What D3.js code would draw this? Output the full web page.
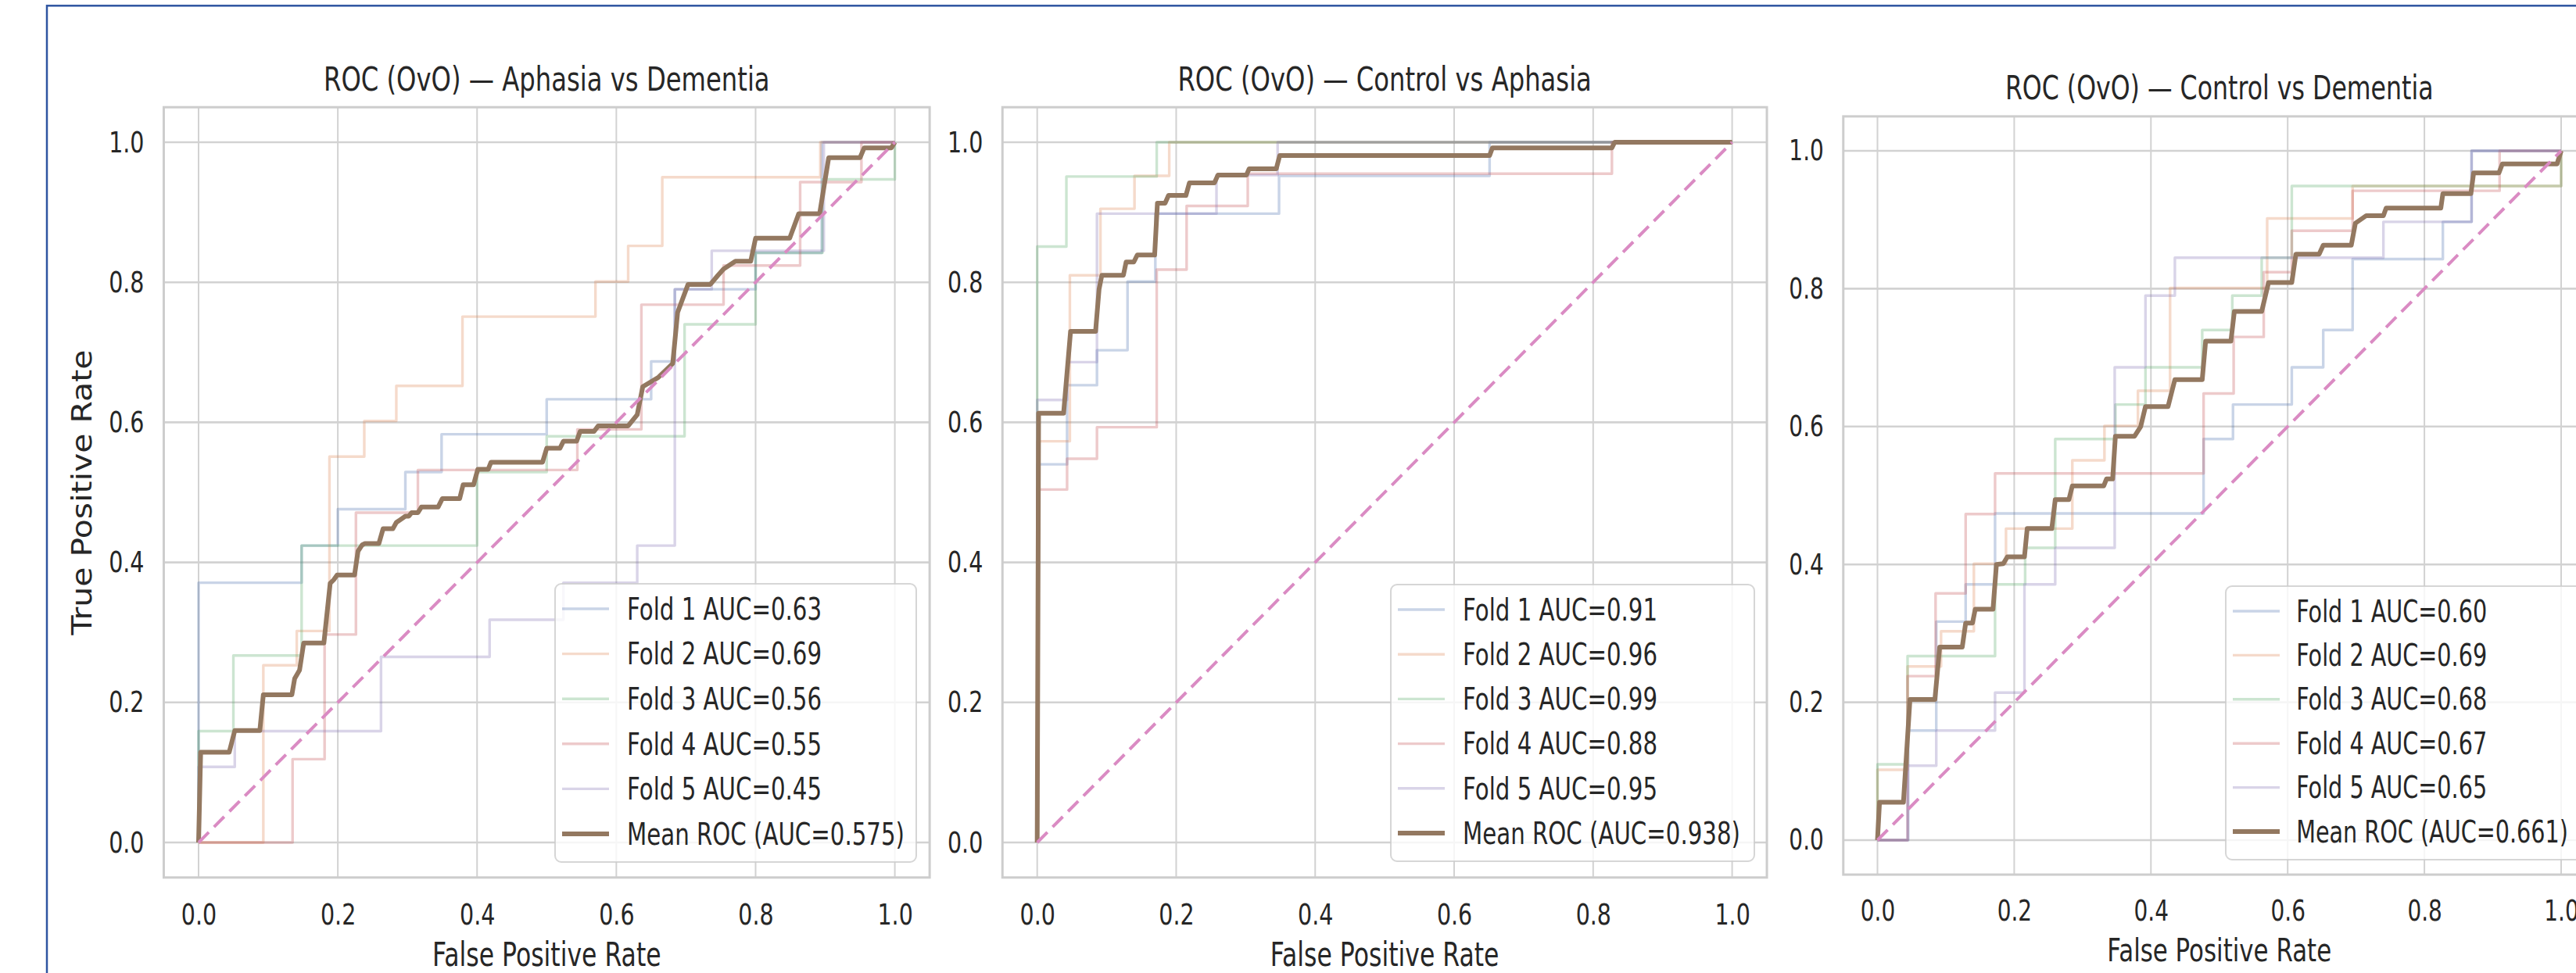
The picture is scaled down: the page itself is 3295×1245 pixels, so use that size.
<!DOCTYPE html>
<html>
<head>
<meta charset="utf-8">
<script src="https://cdn.jsdelivr.net/npm/d3@7"></script>
<style>
  body { margin: 0; background: #fff; }
  svg { display: block; }
</style>
</head>
<body>
<script>
var W = 3295, H = 1245;
var SX = 0.75; // the source screenshot is squeezed horizontally
var FONT = "DejaVu Sans, sans-serif";
var INK = "#262626";

var ticks = [0, 0.2, 0.4, 0.6, 0.8, 1.0];
var foldNames = ["Fold 1", "Fold 2", "Fold 3", "Fold 4", "Fold 5"];
var foldColors = ["#4c72b0", "#dd8452", "#55a868", "#c44e52", "#8172b3"];
var meanColor = "#937860";
var chanceColor = "#da8bc3";
var chance = [[0, 0], [1, 1]];

var titles = [
  "ROC (OvO) — Aphasia vs Dementia",
  "ROC (OvO) — Control vs Aphasia",
  "ROC (OvO) — Control vs Dementia"
];

// Aphasia vs Dementia
var aucAD = [0.63, 0.69, 0.56, 0.55, 0.45];
var meanAucAD = 0.575;
var adFold1 = [[0,0],[0,0.371],[0.148,0.371],[0.148,0.424],[0.2,0.424],[0.2,0.476],[0.297,0.476],[0.297,0.529],[0.349,0.529],[0.349,0.583],[0.5,0.583],[0.5,0.633],[0.65,0.633],[0.65,0.687],[0.684,0.687],[0.684,0.79],[0.8,0.79],[0.8,0.842],[0.895,0.842],[0.895,1],[1,1]];
var adFold2 = [[0,0],[0.093,0],[0.093,0.253],[0.141,0.253],[0.141,0.302],[0.188,0.302],[0.188,0.551],[0.238,0.551],[0.238,0.602],[0.284,0.602],[0.284,0.652],[0.379,0.652],[0.379,0.751],[0.57,0.751],[0.57,0.801],[0.617,0.801],[0.617,0.852],[0.666,0.852],[0.666,0.95],[0.893,0.95],[0.893,1],[1,1]];
var adFold3 = [[0,0],[0,0.159],[0.05,0.159],[0.05,0.267],[0.148,0.267],[0.148,0.424],[0.4,0.424],[0.4,0.529],[0.5,0.529],[0.5,0.58],[0.698,0.58],[0.698,0.74],[0.8,0.74],[0.8,0.842],[0.896,0.842],[0.896,0.947],[1,0.947],[1,1]];
var adFold4 = [[0,0],[0.135,0],[0.135,0.119],[0.181,0.119],[0.181,0.297],[0.226,0.297],[0.226,0.471],[0.315,0.471],[0.315,0.532],[0.544,0.532],[0.544,0.59],[0.636,0.59],[0.636,0.768],[0.754,0.768],[0.754,0.824],[0.864,0.824],[0.864,0.943],[0.952,0.943],[0.952,1],[1,1]];
var adFold5 = [[0,0],[0,0.108],[0.052,0.108],[0.052,0.159],[0.262,0.159],[0.262,0.265],[0.418,0.265],[0.418,0.318],[0.524,0.318],[0.524,0.371],[0.63,0.371],[0.63,0.424],[0.684,0.424],[0.684,0.79],[0.737,0.79],[0.737,0.845],[0.898,0.845],[0.898,1],[1,1]];
var adMean = [[0,0],[0.003,0.129],[0.044,0.129],[0.052,0.16],[0.088,0.16],[0.093,0.211],[0.134,0.211],[0.138,0.234],[0.145,0.246],[0.151,0.285],[0.18,0.285],[0.189,0.37],[0.194,0.375],[0.199,0.382],[0.224,0.382],[0.229,0.416],[0.235,0.425],[0.239,0.427],[0.259,0.427],[0.265,0.448],[0.279,0.448],[0.284,0.457],[0.297,0.466],[0.302,0.466],[0.306,0.471],[0.315,0.471],[0.32,0.479],[0.344,0.479],[0.35,0.491],[0.375,0.491],[0.38,0.511],[0.395,0.511],[0.401,0.533],[0.416,0.533],[0.42,0.543],[0.494,0.543],[0.5,0.563],[0.519,0.563],[0.524,0.573],[0.543,0.573],[0.548,0.587],[0.568,0.587],[0.574,0.595],[0.617,0.595],[0.63,0.611],[0.638,0.651],[0.66,0.664],[0.681,0.684],[0.688,0.757],[0.703,0.797],[0.735,0.797],[0.746,0.81],[0.754,0.819],[0.771,0.83],[0.793,0.83],[0.8,0.863],[0.849,0.863],[0.862,0.898],[0.892,0.898],[0.905,0.978],[0.95,0.978],[0.956,0.992],[0.995,0.992],[1,1]];

// Control vs Aphasia
var aucCA = [0.91, 0.96, 0.99, 0.88, 0.95];
var meanAucCA = 0.938;
var caFold1 = [[0,0],[0,0.54],[0.043,0.54],[0.043,0.653],[0.086,0.653],[0.086,0.703],[0.13,0.703],[0.13,0.801],[0.17,0.801],[0.17,0.898],[0.348,0.898],[0.348,0.952],[0.651,0.952],[0.651,1],[1,1]];
var caFold2 = [[0,0],[0,0.573],[0.047,0.573],[0.047,0.81],[0.091,0.81],[0.091,0.905],[0.14,0.905],[0.14,0.952],[0.19,0.952],[0.19,1],[1,1]];
var caFold3 = [[0,0],[0,0.851],[0.042,0.851],[0.042,0.951],[0.172,0.951],[0.172,1],[1,1]];
var caFold4 = [[0,0],[0,0.504],[0.043,0.504],[0.043,0.548],[0.086,0.548],[0.086,0.593],[0.172,0.593],[0.172,0.818],[0.215,0.818],[0.215,0.909],[0.303,0.909],[0.303,0.955],[0.827,0.955],[0.827,1],[1,1]];
var caFold5 = [[0,0],[0,0.632],[0.043,0.632],[0.043,0.686],[0.086,0.686],[0.086,0.898],[0.258,0.898],[0.258,0.953],[0.346,0.953],[0.346,1],[1,1]];
var caMean = [[0,0],[0.002,0.613],[0.038,0.613],[0.048,0.73],[0.084,0.73],[0.089,0.79],[0.093,0.81],[0.124,0.81],[0.128,0.829],[0.139,0.829],[0.144,0.839],[0.169,0.839],[0.173,0.913],[0.184,0.913],[0.189,0.924],[0.214,0.924],[0.219,0.942],[0.255,0.942],[0.26,0.953],[0.301,0.953],[0.305,0.962],[0.344,0.962],[0.349,0.981],[0.651,0.981],[0.655,0.992],[0.827,0.992],[0.831,1],[1,1]];

// Control vs Dementia
var aucCD = [0.60, 0.69, 0.68, 0.67, 0.65];
var meanAucCD = 0.661;
var cdFold1 = [[0,0],[0.045,0],[0.045,0.159],[0.086,0.159],[0.086,0.317],[0.129,0.317],[0.129,0.371],[0.172,0.371],[0.172,0.474],[0.477,0.474],[0.477,0.582],[0.52,0.582],[0.52,0.632],[0.606,0.632],[0.606,0.686],[0.652,0.686],[0.652,0.74],[0.695,0.74],[0.695,0.843],[0.827,0.843],[0.827,0.897],[0.869,0.897],[0.869,1],[1,1]];
var cdFold2 = [[0,0],[0,0.102],[0.044,0.102],[0.044,0.252],[0.093,0.252],[0.093,0.303],[0.141,0.303],[0.141,0.401],[0.188,0.401],[0.188,0.452],[0.285,0.452],[0.285,0.551],[0.332,0.551],[0.332,0.601],[0.381,0.601],[0.381,0.652],[0.428,0.652],[0.428,0.801],[0.57,0.801],[0.57,0.902],[0.695,0.902],[0.695,0.949],[1,0.949],[1,1]];
var cdFold3 = [[0,0],[0,0.11],[0.044,0.11],[0.044,0.267],[0.172,0.267],[0.172,0.371],[0.216,0.371],[0.216,0.424],[0.26,0.424],[0.26,0.582],[0.348,0.582],[0.348,0.632],[0.392,0.632],[0.392,0.686],[0.475,0.686],[0.475,0.74],[0.519,0.74],[0.519,0.79],[0.562,0.79],[0.562,0.845],[0.606,0.845],[0.606,0.949],[1,0.949],[1,1]];
var cdFold4 = [[0,0],[0.044,0],[0.044,0.238],[0.085,0.238],[0.085,0.358],[0.129,0.358],[0.129,0.473],[0.172,0.473],[0.172,0.532],[0.477,0.532],[0.477,0.648],[0.521,0.648],[0.521,0.73],[0.565,0.73],[0.565,0.824],[0.606,0.824],[0.606,0.884],[0.695,0.884],[0.695,0.942],[0.91,0.942],[0.91,1],[1,1]];
var cdFold5 = [[0,0],[0.044,0],[0.044,0.108],[0.086,0.108],[0.086,0.159],[0.172,0.159],[0.172,0.214],[0.215,0.214],[0.215,0.371],[0.26,0.371],[0.26,0.424],[0.347,0.424],[0.347,0.686],[0.392,0.686],[0.392,0.79],[0.435,0.79],[0.435,0.845],[0.74,0.845],[0.74,0.897],[0.869,0.897],[0.869,1],[1,1]];
var cdMean = [[0,0],[0.003,0.055],[0.038,0.055],[0.0475,0.204],[0.084,0.204],[0.091,0.28],[0.124,0.28],[0.129,0.315],[0.139,0.315],[0.143,0.335],[0.169,0.335],[0.174,0.4],[0.184,0.401],[0.19,0.411],[0.215,0.411],[0.219,0.452],[0.255,0.452],[0.26,0.494],[0.28,0.494],[0.285,0.514],[0.331,0.514],[0.335,0.524],[0.344,0.524],[0.348,0.586],[0.376,0.586],[0.385,0.6],[0.392,0.629],[0.425,0.629],[0.435,0.668],[0.475,0.668],[0.48,0.724],[0.517,0.724],[0.522,0.767],[0.562,0.767],[0.572,0.809],[0.606,0.809],[0.612,0.85],[0.646,0.85],[0.652,0.863],[0.693,0.863],[0.699,0.895],[0.715,0.906],[0.74,0.906],[0.744,0.917],[0.824,0.917],[0.827,0.938],[0.868,0.938],[0.872,0.968],[0.909,0.968],[0.914,0.981],[0.994,0.981],[1,1]];

// layout of the three panels (pixel frames, as in the screenshot)
var panels = [
  {title: titles[0], folds: [adFold1, adFold2, adFold3, adFold4, adFold5], auc: aucAD, mean: adMean, meanAuc: meanAucAD,
   x0: 254, x1: 1144.6, y0: 1078, y1: 182, k: 1, leg: {x: 710, y: 747, w: 462, h: 356}, ylabel: true},
  {title: titles[1], folds: [caFold1, caFold2, caFold3, caFold4, caFold5], auc: aucCA, mean: caMean, meanAuc: meanAucCA,
   x0: 1326.7, x1: 2215.6, y0: 1078, y1: 182, k: 1, leg: {x: 1779, y: 748, w: 465, h: 354}, ylabel: false},
  {title: titles[2], folds: [cdFold1, cdFold2, cdFold3, cdFold4, cdFold5], auc: aucCD, mean: cdMean, meanAuc: meanAucCD,
   x0: 2401.5, x1: 3276, y0: 1075, y1: 193, k: 0.98, leg: {x: 2847, y: 750, w: 456, h: 350}, ylabel: false}
];

var svg = d3.select("body")
            .append("svg")
              .attr("width", W)
              .attr("height", H);

svg.append("rect")
   .attr("width", W).attr("height", H)
   .attr("fill", "#ffffff");

function squeezedText(parent, x, y, str, size, anchor, sx) {
  return parent.append("g")
      .attr("transform", "translate(" + x + "," + y + ") scale(" + (sx || SX) + ",1)")
    .append("text")
      .attr("text-anchor", anchor)
      .attr("font-family", FONT)
      .attr("font-size", size)
      .attr("fill", INK)
      .text(str);
}

panels.forEach(function(p) {
  var x = d3.scaleLinear().domain([0, 1]).range([p.x0, p.x1]);
  var y = d3.scaleLinear().domain([0, 1]).range([p.y0, p.y1]);
  var left = x(-0.05), right = x(1.05), top = y(1.05), bottom = y(-0.05);
  var k = p.k;
  var g = svg.append("g");

  // grid
  g.selectAll(".vgrid").data(ticks).enter().append("line")
     .attr("x1", function(d) { return x(d); }).attr("x2", function(d) { return x(d); })
     .attr("y1", top).attr("y2", bottom)
     .attr("stroke", "#d2d2d2").attr("stroke-width", 2);
  g.selectAll(".hgrid").data(ticks).enter().append("line")
     .attr("x1", left).attr("x2", right)
     .attr("y1", function(d) { return y(d); }).attr("y2", function(d) { return y(d); })
     .attr("stroke", "#d2d2d2").attr("stroke-width", 2.6);

  // frame
  g.append("rect")
     .attr("x", left).attr("y", top)
     .attr("width", right - left).attr("height", bottom - top)
     .attr("fill", "none").attr("stroke", "#cdcdcd").attr("stroke-width", 3);

  // axes
  var xa = g.append("g")
      .attr("transform", "translate(0," + bottom + ")")
      .call(d3.axisBottom(x).tickValues(ticks).tickFormat(d3.format(".1f")).tickSize(0).tickPadding(33 * k));
  var ya = g.append("g")
      .attr("transform", "translate(" + left + ",0)")
      .call(d3.axisLeft(y).tickValues(ticks).tickFormat(d3.format(".1f")).tickSize(0).tickPadding(25 / SX));
  [xa, ya].forEach(function(a) {
    a.select(".domain").remove();
    a.attr("font-family", FONT).attr("font-size", 38 * k);
    a.selectAll("text")
       .attr("fill", INK)
       .attr("transform", "scale(" + SX + ",1)");
  });

  // curves
  var line = d3.line()
               .x(function(d) { return x(d[0]); })
               .y(function(d) { return y(d[1]); });

  g.selectAll(".fold").data(p.folds).enter().append("path")
     .attr("d", line)
     .attr("fill", "none")
     .attr("stroke", function(d, i) { return foldColors[i]; })
     .attr("stroke-opacity", 0.3)
     .attr("stroke-width", 3.4)
     .attr("stroke-linejoin", "round");

  g.append("path")
     .datum(p.mean)
     .attr("d", line)
     .attr("fill", "none")
     .attr("stroke", meanColor)
     .attr("stroke-width", 6)
     .attr("stroke-linejoin", "round");

  g.append("path")
     .datum(chance)
     .attr("d", line)
     .attr("fill", "none")
     .attr("stroke", chanceColor)
     .attr("stroke-width", 4)
     .attr("stroke-dasharray", "18.5 9.5");

  // legend
  var L = p.leg;
  var lg = g.append("g");
  lg.append("rect")
     .attr("x", L.x).attr("y", L.y).attr("width", L.w).attr("height", L.h)
     .attr("rx", 8)
     .attr("fill", "#ffffff").attr("fill-opacity", 0.8)
     .attr("stroke", "#cccccc").attr("stroke-opacity", 0.8).attr("stroke-width", 2);

  var rows = p.auc.map(function(a, i) {
    return {label: foldNames[i] + " AUC=" + a.toFixed(2), color: foldColors[i], op: 0.3, w: 3.4};
  });
  rows.push({label: "Mean ROC (AUC=" + p.meanAuc.toFixed(3) + ")", color: meanColor, op: 1, w: 6});

  var rowStep = (L.h - 68) / 5;
  rows.forEach(function(r, i) {
    var ry = L.y + 32 + i * rowStep;
    lg.append("line")
       .attr("x1", L.x + 9).attr("x2", L.x + 69)
       .attr("y1", ry).attr("y2", ry)
       .attr("stroke", r.color).attr("stroke-opacity", r.op).attr("stroke-width", r.w);
    squeezedText(lg, L.x + 92 * k, ry + 13.8 * k, r.label, 39 * k, "start");
  });

  // titles and labels
  squeezedText(g, (left + right) / 2, top - 21.5, p.title, 43 * k, "middle");
  squeezedText(g, (left + right) / 2, bottom + 113 * k, "False Positive Rate", 42 * k, "middle");
  if (p.ylabel) {
    svg.append("g")
       .attr("transform", "translate(" + (left - 92.5) + "," + ((top + bottom) / 2) + ") scale(0.85,1) rotate(-90)")
     .append("text")
       .attr("text-anchor", "middle")
       .attr("font-family", FONT)
       .attr("font-size", 41)
       .attr("fill", INK)
       .text("True Positive Rate");
  }
});

// blue frame of the screenshot
svg.append("rect")
   .attr("x", 60).attr("y", 7.3)
   .attr("width", W + 100).attr("height", H + 100)
   .attr("fill", "none")
   .attr("stroke", "#2f55a1")
   .attr("stroke-width", 2.5);
</script>
</body>
</html>
